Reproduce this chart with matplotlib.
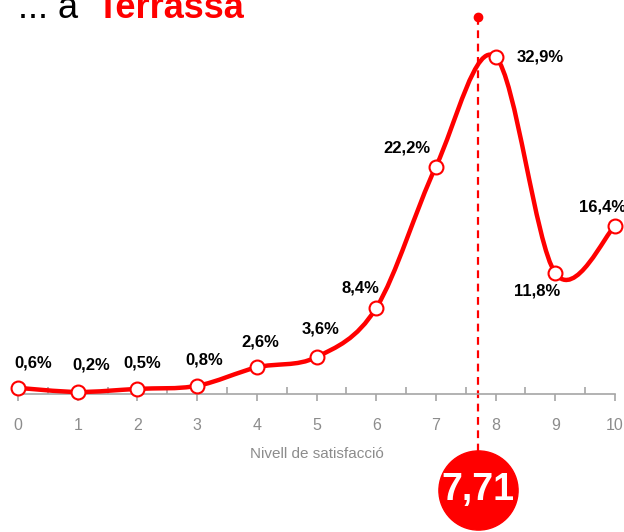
import matplotlib
matplotlib.use("Agg")
import matplotlib.pyplot as plt
from matplotlib.path import Path
from matplotlib.patches import PathPatch
from matplotlib import font_manager

# satisfaction level distribution (%)
levels = [0, 1, 2, 3, 4, 5, 6, 7, 8, 9, 10]
shares = [0.6, 0.2, 0.5, 0.8, 2.6, 3.6, 8.4, 22.2, 32.9, 11.8, 16.4]
labels = ["0,6%", "0,2%", "0,5%", "0,8%", "2,6%", "3,6%", "8,4%", "22,2%", "32,9%", "11,8%", "16,4%"]
# label offsets in pixels (dx, dy)
offsets = [(15, 25), (14, 27), (5, 26), (7, 26), (4, 25), (4, 28),
           (-16, 20), (-29, 19), (45, 0), (-18, -18), (-12, 19)]
mean_value = 7.71
mean_label = "7,71"
x_title = "Nivell de satisfacció"

RED = "#ff0000"
GREY = "#8c8c8c"

installed = {f.name for f in font_manager.fontManager.ttflist}
narrow = "Liberation Sans Narrow" if "Liberation Sans Narrow" in installed else "Liberation Sans"

fig = plt.figure(figsize=(6.24, 5.32), dpi=100)
W, H = 624, 532
ax = fig.add_axes([18 / W, (H - 394) / H, 597 / W, 379 / H])
ax.set_xlim(0, 10)
ax.set_ylim(0, 37)

# smoothed line, catmull-rom style like a spreadsheet "smoothed line"
verts = [(levels[0], shares[0])]
codes = [Path.MOVETO]
n = len(levels)
for i in range(n - 1):
    p0 = (levels[max(i - 1, 0)], shares[max(i - 1, 0)])
    p1 = (levels[i], shares[i])
    p2 = (levels[i + 1], shares[i + 1])
    p3 = (levels[min(i + 2, n - 1)], shares[min(i + 2, n - 1)])
    c1 = (p1[0] + (p2[0] - p0[0]) / 6, p1[1] + (p2[1] - p0[1]) / 6)
    c2 = (p2[0] - (p3[0] - p1[0]) / 6, p2[1] - (p3[1] - p1[1]) / 6)
    verts += [c1, c2, p2]
    codes += [Path.CURVE4] * 3
ax.add_patch(PathPatch(Path(verts, codes), fill=False, edgecolor=RED, lw=3.2,
                       capstyle="round", joinstyle="round", clip_on=False, zorder=3))

# mean marker: dashed line + circle
ax.plot([mean_value, mean_value], [36.8, -5.6], ls=(0, (3.5, 2.5)), color=RED, lw=1.6,
        clip_on=False, zorder=2)
ax.plot([mean_value], [36.8], "o", color=RED, ms=6, clip_on=False, zorder=2)
ax.plot([mean_value], [-9.4], "o", color=RED, ms=57, mec=RED, clip_on=False, zorder=4)
ax.text(mean_value, -9.4, mean_label, color="white", fontsize=27, fontweight="bold",
        family=narrow, ha="center", va="center", zorder=5, clip_on=False)

ax.plot(levels, shares, "o", ms=10, mfc="white", mec=RED, mew=1.5, clip_on=False, zorder=4)

for x, y, lab, (dx, dy) in zip(levels, shares, labels, offsets):
    ax.annotate(lab, (x, y), xytext=(dx, dy), textcoords="offset pixels",
                ha="center", va="center", fontsize=12, fontweight="bold",
                family=narrow, color="black", zorder=6, annotation_clip=False)

for side in ["top", "right", "left"]:
    ax.spines[side].set_visible(False)
ax.spines["bottom"].set_color("#a6a6a6")
ax.spines["bottom"].set_linewidth(1.2)
ax.set_yticks([])
ax.set_xticks(levels)
ax.set_xticklabels([str(v) for v in levels], color=GREY, fontsize=11.5, family=narrow)
ax.set_xticks([v + 0.5 for v in levels[:-1]], minor=True)
ax.tick_params(axis="x", which="major", direction="out", length=5, width=1.2,
               color="#a6a6a6", pad=12)
ax.tick_params(axis="x", which="minor", direction="in", length=5, width=1.2,
               color="#a6a6a6")
ax.set_xlabel(x_title, color=GREY, fontsize=11, family=narrow, labelpad=10)
ax.patch.set_alpha(0)

# title, partly cut at the top
fig.text(18 / W, 1 - 18 / H, "... a", fontsize=26, family="Liberation Sans",
         color="black", va="baseline", ha="left")
fig.text(97 / W, 1 - 18 / H, "Terrassa", fontsize=26, family="Liberation Sans",
         fontweight="bold", color=RED, va="baseline", ha="left")

fig.savefig("out.png", dpi=100)
